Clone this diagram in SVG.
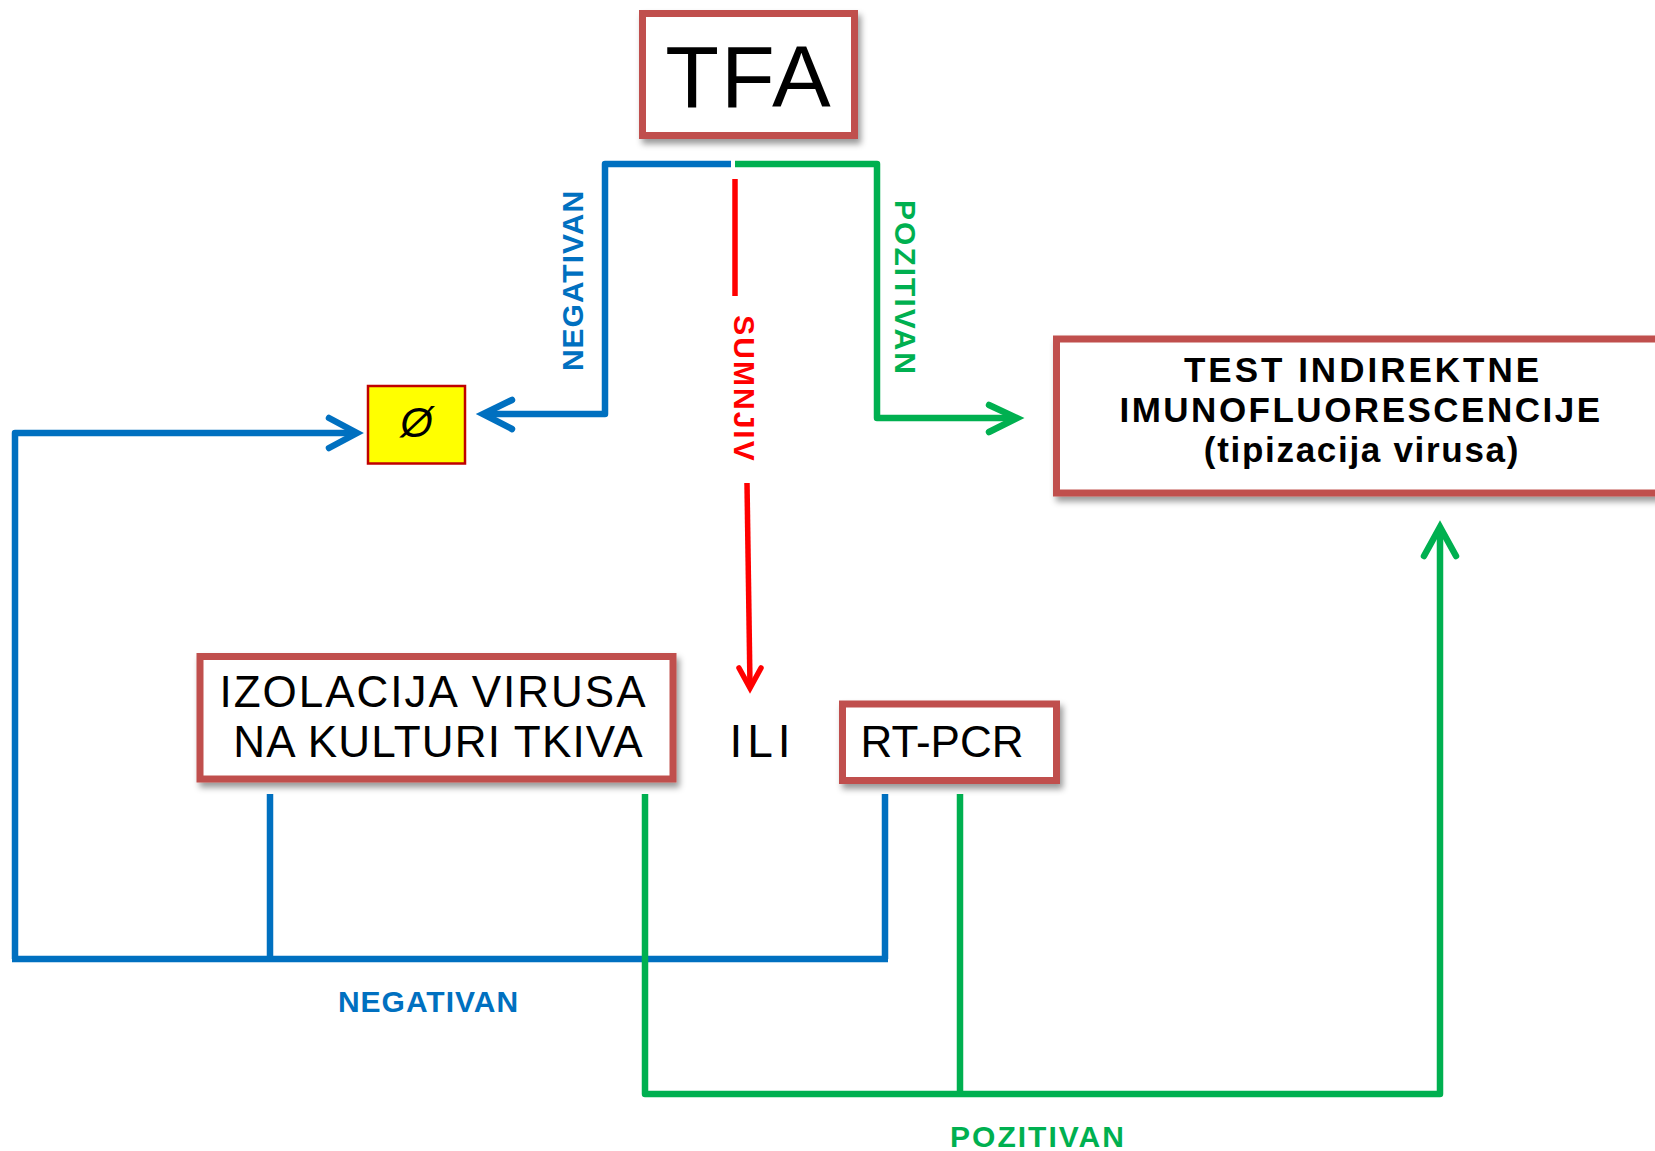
<svg xmlns="http://www.w3.org/2000/svg" width="1655" height="1151" viewBox="0 0 1655 1151">
<defs>
<filter id="sh" x="-10%" y="-10%" width="125%" height="140%">
<feDropShadow dx="3" dy="5" stdDeviation="3" flood-color="#000" flood-opacity="0.4"/>
</filter>
</defs>
<style>
.box{fill:#fff;stroke:#C0504D;stroke-width:7;filter:url(#sh)}
.t{font-family:"Liberation Sans",Arial,sans-serif;fill:#000;text-anchor:middle}
.b{stroke:#0070C0;stroke-width:6.5;fill:none;stroke-linejoin:round;stroke-linecap:butt}
.g{stroke:#00B050;stroke-width:6.5;fill:none;stroke-linejoin:round;stroke-linecap:butt}
.r{stroke:#FF0000;stroke-width:5.5;fill:none;stroke-linejoin:round;stroke-linecap:butt}
.ah{stroke-linecap:round;stroke-linejoin:miter}
.lb{font-family:"Liberation Sans",Arial,sans-serif;font-weight:bold;text-anchor:middle;font-size:30px}
.tt{font-weight:bold;font-size:35px}
</style>
<g id="connectors">
<path class="b" d="M731,164 H605 V414 H486"/>
<polyline class="b ah" points="512,400 483,414 512,429"/>
<path class="g" d="M735,164 H877 V418 H1014"/>
<polyline class="g ah" points="989,405 1017,418 989,432"/>
<path class="r" d="M735,179 V296"/>
<path class="r" d="M747,483 L750,686"/>
<polyline class="r ah" points="739,668 750,688 761,668"/>
<path class="b" d="M15,959 V433 H354"/>
<polyline class="b ah" points="329,418 357,433 329,448"/>
<path class="b" d="M270,794 V959"/>
<path class="b" d="M885,794 V959"/>
<path class="b" d="M12,959 H888"/>
<path class="g" d="M645,794 V1094 H1440 V530"/>
<polyline class="g ah" points="1424,556 1440,527 1456,556"/>
<path class="g" d="M960,794 V1094"/>
</g>
<g id="labels">
<text class="lb" fill="#0070C0" letter-spacing="1" transform="translate(583,280.5) rotate(-90)">NEGATIVAN</text>
<text class="lb" fill="#FF0000" letter-spacing="2" transform="translate(734,389) rotate(90)">SUMNJIV</text>
<text class="lb" fill="#00B050" letter-spacing="2" transform="translate(895,288) rotate(90)">POZITIVAN</text>
<text class="lb" fill="#0070C0" letter-spacing="1" x="428.5" y="1012">NEGATIVAN</text>
<text class="lb" fill="#00B050" letter-spacing="2" x="1038" y="1147">POZITIVAN</text>
</g>
<g id="tfa">
<rect class="box" x="642.5" y="13.5" width="212" height="122"/>
<text class="t" x="749" y="107" font-size="88" letter-spacing="2">TFA</text>
</g>
<g id="empty">
<rect x="368" y="386" width="97" height="77.5" fill="#FFFF00" stroke="#C00000" stroke-width="2.5"/>
<text class="t" x="416.5" y="437" font-size="42" font-style="italic">Ø</text>
</g>
<g id="test">
<rect class="box" x="1056.5" y="339" width="620" height="154"/>
<text class="t tt" letter-spacing="3" x="1363" y="382">TEST INDIREKTNE</text>
<text class="t tt" letter-spacing="2.5" x="1361" y="422">IMUNOFLUORESCENCIJE</text>
<text class="t tt" letter-spacing="1.7" x="1362" y="462">(tipizacija virusa)</text>
</g>
<g id="izolacija">
<rect class="box" x="200" y="656.5" width="473" height="122.5"/>
<text class="t" font-size="44" letter-spacing="2" x="433.5" y="707">IZOLACIJA VIRUSA</text>
<text class="t" font-size="44" letter-spacing="1.2" x="438.5" y="757">NA KULTURI TKIVA</text>
</g>
<g id="ili">
<text class="t" font-size="46" letter-spacing="5" x="762.5" y="757">ILI</text>
</g>
<g id="rtpcr">
<rect class="box" x="842.5" y="704" width="214" height="76.5"/>
<text class="t" font-size="44" x="942" y="757">RT-PCR</text>
</g>
</svg>
